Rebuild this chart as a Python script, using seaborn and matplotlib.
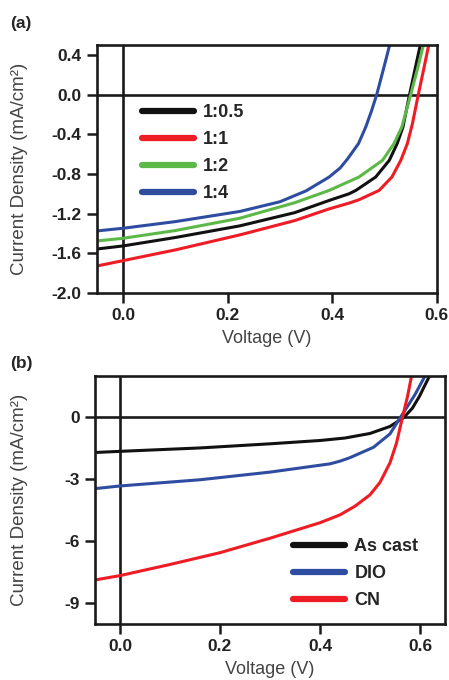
import matplotlib
matplotlib.use("Agg")
import matplotlib.pyplot as plt
import pandas as pd
import seaborn as sns

# panel (a): donor:acceptor ratio series
labels_a = ["1:0.5", "1:1", "1:2", "1:4"]
colors_a = ["#111111", "#ee1c25", "#5cb947", "#2f4da0"]

v_05 = [-0.05, 0.0, 0.1, 0.223, 0.328, 0.394, 0.432, 0.445, 0.483, 0.509, 0.524, 0.535, 0.547, 0.558, 0.569]
j_05 = [-1.556, -1.525, -1.44, -1.323, -1.19, -1.067, -1.0, -0.966, -0.831, -0.663, -0.495, -0.33, -0.02, 0.25, 0.515]

v_11 = [-0.05, 0.0, 0.1, 0.223, 0.328, 0.394, 0.432, 0.451, 0.4895, 0.514, 0.531, 0.5435, 0.553, 0.5645, 0.575, 0.585]
j_11 = [-1.727, -1.673, -1.565, -1.414, -1.27, -1.152, -1.094, -1.06, -0.966, -0.831, -0.663, -0.495, -0.30, 0.0, 0.26, 0.515]

v_12 = [-0.05, 0.0, 0.1, 0.223, 0.328, 0.394, 0.432, 0.451, 0.496, 0.518, 0.533, 0.550, 0.563, 0.575]
j_12 = [-1.475, -1.448, -1.37, -1.246, -1.09, -0.966, -0.876, -0.831, -0.663, -0.495, -0.327, 0.0, 0.26, 0.515]

v_14 = [-0.05, 0.0, 0.1, 0.223, 0.3, 0.35, 0.394, 0.415, 0.429, 0.45, 0.464, 0.475, 0.485, 0.498, 0.5105]
j_14 = [-1.374, -1.347, -1.28, -1.178, -1.08, -0.97, -0.831, -0.74, -0.65, -0.495, -0.327, -0.165, 0.0, 0.26, 0.515]

# panel (b): processing additive series
labels_b = ["As cast", "DIO", "CN"]
colors_b = ["#111111", "#2f4da0", "#ee1c25"]

v_cast = [-0.05, 0.0, 0.16, 0.3, 0.4, 0.45, 0.5, 0.54, 0.568, 0.585, 0.599, 0.619]
j_cast = [-1.70, -1.645, -1.48, -1.28, -1.12, -1.0, -0.78, -0.44, 0.0, 0.45, 1.02, 2.0]

v_dio = [-0.05, 0.0, 0.16, 0.3, 0.42, 0.44, 0.46, 0.507, 0.54, 0.561, 0.59, 0.61]
j_dio = [-3.45, -3.32, -3.02, -2.65, -2.25, -2.12, -1.95, -1.45, -0.8, 0.0, 1.1, 2.0]

v_cn = [-0.05, 0.0, 0.1, 0.2, 0.3, 0.4, 0.44, 0.47, 0.5, 0.52, 0.54, 0.553, 0.565, 0.575, 0.583]
j_cn = [-7.87, -7.66, -7.12, -6.55, -5.85, -5.1, -4.72, -4.3, -3.75, -3.15, -2.2, -1.25, 0.0, 1.0, 1.98]


def long_table(names, vs, js):
    rows = []
    for name, v, j in zip(names, vs, js):
        rows.append(pd.DataFrame({"V": v, "J": j, "series": name}))
    return pd.concat(rows, ignore_index=True)


df_a = long_table(labels_a, [v_05, v_11, v_12, v_14], [j_05, j_11, j_12, j_14])
df_b = long_table(labels_b, [v_cast, v_dio, v_cn], [j_cast, j_dio, j_cn])

sns.set_style("ticks")
plt.rcParams["font.family"] = ["Liberation Sans", "DejaVu Sans"]
plt.rcParams["axes.unicode_minus"] = False

fig = plt.figure(figsize=(4.49, 6.80), dpi=100)
ax_a = fig.add_axes([0.216, 0.569, 0.757, 0.365])
ax_b = fig.add_axes([0.2116, 0.0824, 0.7794, 0.3646])


def style_axes(ax, xlim, ylim, yticks, yfmt, ylab_x):
    ax.set_xlim(*xlim)
    ax.set_ylim(*ylim)
    ax.set_xticks([0.0, 0.2, 0.4, 0.6])
    ax.set_xticklabels(["0.0", "0.2", "0.4", "0.6"])
    ax.set_yticks(yticks)
    ax.set_yticklabels([yfmt.format(t) for t in yticks])
    for s in ax.spines.values():
        s.set_linewidth(1.9)
        s.set_color("#1a1a1a")
    ax.tick_params(direction="out", length=7, width=1.8, color="#1a1a1a",
                   labelsize=12.5, pad=4)
    for lab in ax.get_xticklabels() + ax.get_yticklabels():
        lab.set_fontweight("bold")
        lab.set_color("#222222")
    ax.axhline(0, color="#1a1a1a", lw=1.9, zorder=1)
    ax.axvline(0, color="#1a1a1a", lw=1.9, zorder=1)
    ax.set_xlabel("Voltage (V)", fontsize=13, color="#444444", labelpad=5)
    ax.set_ylabel("Current Density (mA/cm²)", fontsize=13.5, color="#444444")
    ax.yaxis.set_label_coords(ylab_x, 0.5)


sns.lineplot(data=df_a, x="V", y="J", hue="series", palette=colors_a,
             hue_order=labels_a, sort=False, estimator=None, lw=2.2, ax=ax_a)
style_axes(ax_a, (-0.05, 0.6), (-2.0, 0.5),
           [0.4, 0.0, -0.4, -0.8, -1.2, -1.6, -2.0], "{:.1f}", -0.203)

sns.lineplot(data=df_b, x="V", y="J", hue="series", palette=colors_b,
             hue_order=labels_b, sort=False, estimator=None, lw=2.2, ax=ax_b)
style_axes(ax_b, (-0.05, 0.65), (-10.0, 2.0), [0, -3, -6, -9], "{:d}", -0.191)

for ax, anchor in [(ax_a, (0.132, 0.762)), (ax_b, (0.566, 0.347))]:
    leg = ax.legend(loc="upper left", bbox_to_anchor=anchor, frameon=False,
                    borderpad=0, borderaxespad=0, handlelength=2.9,
                    handletextpad=0.5, labelspacing=0.56,
                    prop={"weight": "bold", "size": 13})
    for line in leg.get_lines():
        line.set_linewidth(4.5)

fig.text(0.022, 0.966, "(a)", fontsize=12.5, fontweight="bold", va="center")
fig.text(0.022, 0.465, "(b)", fontsize=12.5, fontweight="bold", va="center")

fig.savefig("out.png", dpi=100)
